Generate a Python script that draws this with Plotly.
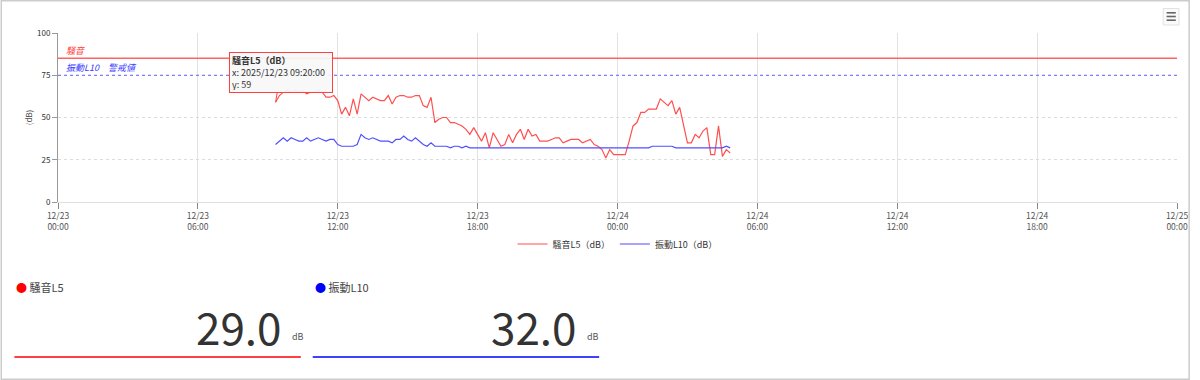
import plotly.graph_objects as go
import pandas as pd

# ---------------- data ----------------
start_time = "2025-12-23 09:20"
times = pd.date_range(start_time, periods=118, freq="10min")

noise_l5 = [
    59, 63, 65, 66, 65, 66, 65, 66, 64, 65,
    65, 66, 65, 62, 62, 63, 60, 52, 56, 51,
    61, 52, 64, 62, 60, 62, 61, 60, 60, 63,
    58, 62, 63, 63, 62, 62, 63, 63, 57, 56,
    62, 47, 49, 50, 50, 47, 47, 46, 45, 43,
    40, 44, 40, 36, 41, 32, 41, 37, 33, 34,
    40, 35, 40, 43, 37, 43, 39, 40, 36, 36,
    36, 37, 38, 38, 35, 36, 37, 37, 37, 35,
    36, 37, 34, 33, 31, 26, 31, 28, 28, 28,
    28, 36, 45, 47, 53, 53, 55, 55, 55, 61,
    59, 57, 60, 52, 56, 45, 35, 35, 40, 38,
    42, 44, 28, 28, 45, 27, 31, 29,
]

vib_l10 = [
    34, 36, 38, 36, 38, 37, 36, 36, 38, 36,
    37, 38, 37, 36, 37, 37, 34, 33, 33, 33,
    33, 34, 40, 38, 37, 38, 37, 36, 36, 36,
    35, 37, 37, 39, 37, 36, 38, 36, 34, 33,
    35, 33, 33, 33, 33, 32, 33, 33, 32, 33,
    32, 32, 32, 32, 32, 32, 32, 32, 32, 32,
    32, 32, 32, 32, 32, 32, 32, 32, 32, 32,
    32, 32, 32, 32, 32, 32, 32, 32, 32, 32,
    32, 32, 32, 32, 32, 32, 32, 32, 32, 32,
    32, 32, 32, 32, 32, 32, 32, 33, 33, 33,
    33, 33, 33, 32, 32, 32, 32, 32, 32, 32,
    32, 32, 32, 32, 32, 32, 33, 32,
]

noise_threshold = 85
vib_threshold = 75
noise_threshold_label = "騒音"
vib_threshold_label = "振動L10　警戒値"

tick_values = ["2025-12-23 00:00", "2025-12-23 06:00", "2025-12-23 12:00",
               "2025-12-23 18:00", "2025-12-24 00:00", "2025-12-24 06:00",
               "2025-12-24 12:00", "2025-12-24 18:00", "2025-12-25 00:00"]
tick_labels = ["12/23<br>00:00", "12/23<br>06:00", "12/23<br>12:00",
               "12/23<br>18:00", "12/24<br>00:00", "12/24<br>06:00",
               "12/24<br>12:00", "12/24<br>18:00", "12/25<br>00:00"]
y_ticks = [0, 25, 50, 75, 100]

latest_noise = 29.0
latest_vib = 32.0

# ---------------- layout helpers ----------------
W, H = 1200, 380
ML, MR, MT, MB = 58, 13, 33, 178
PW, PH = W - ML - MR, H - MT - MB


def px(x):
    return (x - ML) / PW


def py(y):
    return (H - MB - y) / PH


FONT = "Noto Sans CJK JP, Noto Sans, sans-serif"
RED = "#ff4f4f"
BLUE = "#4f4fff"

fig = go.Figure()
fig.add_trace(go.Scatter(x=times, y=noise_l5, mode="lines", name="騒音L5（dB）",
                         line=dict(color=RED, width=1.2)))
fig.add_trace(go.Scatter(x=times, y=vib_l10, mode="lines", name="振動L10（dB）",
                         line=dict(color=BLUE, width=1.2)))

shapes = []
# threshold lines
shapes.append(dict(type="line", xref="paper", yref="y", x0=0, x1=1,
                   y0=noise_threshold, y1=noise_threshold,
                   line=dict(color="#ff6464", width=1.5)))
shapes.append(dict(type="line", xref="paper", yref="y", x0=0, x1=1,
                   y0=vib_threshold, y1=vib_threshold,
                   line=dict(color="#6464ff", width=1, dash="dot")))
# outer border
shapes.append(dict(type="rect", xref="paper", yref="paper",
                   x0=px(0.75), x1=px(1199.25), y0=py(379.25), y1=py(0.75),
                   line=dict(color="#cccccc", width=1.5)))
# KPI underlines
shapes.append(dict(type="line", xref="paper", yref="paper",
                   x0=px(14), x1=px(303), y0=py(357), y1=py(357),
                   line=dict(color="#ff4040", width=2)))
shapes.append(dict(type="line", xref="paper", yref="paper",
                   x0=px(315), x1=px(604), y0=py(357), y1=py(357),
                   line=dict(color="#4040ff", width=2)))
# menu icon
shapes.append(dict(type="rect", xref="paper", yref="paper",
                   x0=px(1173), x1=px(1189), y0=py(25), y1=py(8.5),
                   line=dict(color="#e2e2e2", width=1), fillcolor="#fafafa"))
for yy in (12.8, 16.5, 20.2):
    shapes.append(dict(type="line", xref="paper", yref="paper",
                       x0=px(1176.5), x1=px(1185.8), y0=py(yy), y1=py(yy),
                       line=dict(color="#666666", width=1.6)))

annotations = []
annotations.append(dict(x=px(64), y=noise_threshold, xref="paper", yref="y",
                        text="<i>" + noise_threshold_label + "</i>", showarrow=False,
                        xanchor="left", yanchor="bottom", yshift=-1,
                        font=dict(family=FONT, size=9, color="#ff3c3c")))
annotations.append(dict(x=px(64), y=vib_threshold, xref="paper", yref="y",
                        text="<i>" + vib_threshold_label + "</i>", showarrow=False,
                        xanchor="left", yanchor="bottom", yshift=-1,
                        font=dict(family=FONT, size=9, color="#3c3cff")))
# y title
annotations.append(dict(x=px(21), y=0.5, xref="paper", yref="paper",
                        text="(dB)", textangle=-90, showarrow=False,
                        font=dict(family=FONT, size=8, color="#444444")))
# tooltip
annotations.append(dict(x=times[0], y=noise_l5[0], xref="x", yref="y",
                        text="<b>騒音L5（dB）</b><br>x: 2025/12/23 09:20:00<br>y: 59",
                        align="left", showarrow=True, arrowhead=0, arrowwidth=1,
                        arrowcolor="#ff4040", ax=5, ay=-30,
                        width=98, height=35, borderpad=2,
                        bgcolor="rgba(247,247,247,0.92)", bordercolor="#ff4040",
                        borderwidth=1,
                        font=dict(family=FONT, size=9, color="#333333")))
# KPI panels
annotations.append(dict(x=px(14), y=py(287), xref="paper", yref="paper",
                        text="<span style='color:#ff0000'>●</span> 騒音L5",
                        showarrow=False, xanchor="left", yanchor="middle",
                        font=dict(family=FONT, size=11, color="#444444")))
annotations.append(dict(x=px(315), y=py(287), xref="paper", yref="paper",
                        text="<span style='color:#0000ff'>●</span> 振動L10",
                        showarrow=False, xanchor="left", yanchor="middle",
                        font=dict(family=FONT, size=11, color="#444444")))
annotations.append(dict(x=px(286), y=py(326), xref="paper", yref="paper",
                        text=f"{latest_noise:.1f}", showarrow=False,
                        xanchor="right", yanchor="middle",
                        font=dict(family=FONT, size=44, color="#333333")))
annotations.append(dict(x=px(292), y=py(336), xref="paper", yref="paper",
                        text="dB", showarrow=False, xanchor="left", yanchor="middle",
                        font=dict(family=FONT, size=9, color="#555555")))
annotations.append(dict(x=px(584), y=py(326), xref="paper", yref="paper",
                        text=f"{latest_vib:.1f}", showarrow=False,
                        xanchor="right", yanchor="middle",
                        font=dict(family=FONT, size=44, color="#333333")))
annotations.append(dict(x=px(590), y=py(336), xref="paper", yref="paper",
                        text="dB", showarrow=False, xanchor="left", yanchor="middle",
                        font=dict(family=FONT, size=9, color="#555555")))

fig.update_layout(
    width=W, height=H,
    margin=dict(l=ML, r=MR, t=MT, b=MB, pad=0),
    paper_bgcolor="white", plot_bgcolor="white",
    font=dict(family=FONT, size=9, color="#333333"),
    showlegend=True,
    legend=dict(orientation="h", x=0.5, xanchor="center", y=py(244),
                yanchor="middle", font=dict(family=FONT, size=9, color="#333333"),
                bgcolor="rgba(0,0,0,0)", itemwidth=30),
    hovermode=False,
    shapes=shapes,
    annotations=annotations,
    xaxis=dict(type="date", range=["2025-12-23 00:00", "2025-12-25 00:00"],
               tickmode="array", tickvals=tick_values, ticktext=tick_labels,
               showgrid=True, gridcolor="#e2e2e2", gridwidth=1,
               showline=True, linecolor="#e0e0e0", linewidth=1,
               ticks="outside", ticklen=6, tickcolor="#888888", tickwidth=1,
               tickfont=dict(family=FONT, size=8.5, color="#555555"),
               zeroline=False, fixedrange=True),
    yaxis=dict(range=[0, 100], tickmode="array", tickvals=y_ticks,
               showgrid=True, gridcolor="#dcdcdc", griddash="dot", gridwidth=1,
               showline=True, linecolor="#999999", linewidth=1,
               ticks="outside", ticklen=5, tickcolor="#999999",
               tickfont=dict(family=FONT, size=8, color="#333333"),
               zeroline=False, fixedrange=True),
)

fig.write_html("out.html", config={"displayModeBar": False})
